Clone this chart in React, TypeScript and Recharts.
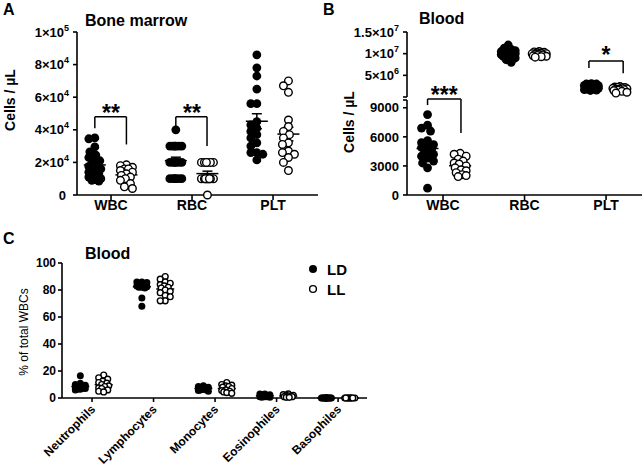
import React from 'react';
import { ScatterChart, Scatter, XAxis, YAxis, ReferenceLine, ReferenceDot, ErrorBar, Legend } from 'recharts';

const FONT = '"Liberation Sans", Arial, Helvetica, sans-serif';

// ---------- Categories ----------
const countCategories = ['WBC', 'RBC', 'PLT'];
const groupNames = ['LD', 'LL'];
const cellTypes = ['Neutrophils', 'Lymphocytes', 'Monocytes', 'Eosinophiles', 'Basophiles'];

// ---------- Panel A: bone marrow (cells / µL) ----------
const bmWbcLD = [35000, 34500, 29500, 26500, 24500, 23000, 21000, 20000, 19000, 17500, 16000, 15000, 14000, 13000, 12000, 11000, 10000, 9500, 9000, 8500];
const bmWbcLL = [18500, 18000, 17000, 16000, 16000, 15000, 14000, 13000, 12000, 11000, 10000, 9000, 7000, 5000, 4000];
const bmRbcLD = [40000, 30000, 30000, 30000, 30000, 30000, 30000, 20000, 20000, 20000, 20000, 20000, 20000, 10000, 10000, 10000, 10000, 10000, 10000];
const bmRbcLL = [20000, 20000, 20000, 20000, 20000, 20000, 10000, 10000, 10000, 10000, 10000, 10000, 10000, 10000, 10000, 0];
const bmPltLD = [86000, 78000, 73000, 65000, 56000, 56000, 45000, 43000, 41000, 39000, 37000, 35000, 32000, 30000, 26000, 26000, 25000, 21500];
const bmPltLL = [70000, 67000, 63000, 46000, 42000, 39000, 37000, 35000, 32000, 31000, 27000, 26000, 25000, 23000, 20000, 15000];

// ---------- Panel B: blood (cells / µL) ----------
const blWbcLD = [8300, 7200, 6900, 6600, 5600, 5400, 5200, 5000, 4900, 4700, 4600, 4400, 4200, 4000, 3800, 3500, 3300, 2800, 700];
const blWbcLL = [4300, 4200, 4000, 3700, 3500, 3300, 3200, 3000, 2800, 2600, 2500, 2300, 2100, 2000, 1900];
const blRbcLD = [12000000, 11300000, 11000000, 10700000, 10500000, 10300000, 10200000, 10100000, 10000000, 9900000, 9800000, 9700000, 9600000, 9400000, 9200000, 9000000, 8600000, 8000000];
const blRbcLL = [10500000, 10400000, 10300000, 10200000, 10100000, 10000000, 10000000, 9900000, 9800000, 9700000, 9600000, 9500000, 9400000, 9300000, 9200000];
const blPltLD = [3100000, 3000000, 3000000, 2900000, 2800000, 2700000, 2600000, 2500000, 2400000, 2300000, 2200000, 2100000, 2000000, 1900000, 1800000, 1700000, 1600000, 1500000];
const blPltLL = [2400000, 2300000, 2200000, 2200000, 2100000, 2000000, 1900000, 1800000, 1800000, 1700000, 1600000, 1500000, 1300000, 1100000, 900000];

// ---------- Panel C: % of total WBCs ----------
const pctLD = [
  [16.5, 11, 10, 9.5, 9, 8.5, 8.5, 8, 8, 7.5, 7.5, 7, 7, 6.5, 6.5, 6],
  [86, 86, 85.5, 85, 85, 84.5, 84, 84, 83.5, 83, 83, 82.5, 82, 82, 81.5, 74, 68],
  [9, 8.5, 8, 8, 7.5, 7.5, 7, 7, 7, 6.5, 6.5, 6, 6, 5.5, 5],
  [3, 3, 2.5, 2.5, 2, 2, 2, 1.5, 1.5, 1.5, 1, 1, 1, 0.5, 0.5],
  [0, 0, 0, 0, 0, 0, 0, 0, 0, 0, 0, 0, 0, 0, 0],
];
const pctLL = [
  [17, 15, 14, 12.5, 11.5, 11, 10, 9, 8.5, 7.5, 7, 6, 5, 4.5],
  [90, 88, 86, 85, 84, 83, 82, 81.5, 80, 79, 78, 76, 75, 72, 72],
  [11.5, 10, 9.5, 9, 8.5, 8, 7, 6, 5.5, 5, 4.5, 4, 3.5],
  [3, 2.5, 2, 2, 1.5, 1.5, 1, 1, 0.5, 0.5],
  [0, 0, 0, 0, 0, 0, 0, 0, 0, 0],
];

// ---------- helpers ----------
type Pt = { x: number; y: number; sem?: number };

// deterministic dot-plot spreading (like a beeswarm): layout only, values untouched
function swarm(values: number[], center: number, pxPerX: number, pxPerY: number, minDist: number, maxHalf: number): Pt[] {
  const placed: { dx: number; py: number }[] = [];
  const out: Pt[] = [];
  const sorted = [...values].sort((a, b) => b - a);
  for (const v of sorted) {
    const py = v * pxPerY;
    let best = 0;
    let bestScore = -1;
    for (let k = 0; k <= 2 * maxHalf; k++) {
      const dx = k % 2 === 1 ? -Math.ceil(k / 2) : k / 2;
      let md = Infinity;
      for (const p of placed) {
        const d = Math.hypot(p.dx - dx, p.py - py);
        if (d < md) md = d;
      }
      if (md >= minDist) { best = dx; break; }
      if (md > bestScore) { bestScore = md; best = dx; }
    }
    placed.push({ dx: best, py });
    out.push({ x: center + best / pxPerX, y: v });
  }
  return out;
}

function meanPt(values: number[], x: number): Pt {
  const n = values.length;
  const m = values.reduce((a, b) => a + b, 0) / n;
  const sd = Math.sqrt(values.reduce((a, b) => a + (b - m) ** 2, 0) / (n - 1));
  return { x, y: m, sem: sd / Math.sqrt(n) };
}

const OFF_LD = -0.2;
const OFF_LL = 0.19;

const filledDot = (r: number) => (p: any) => <circle cx={p.cx} cy={p.cy} r={r} fill="#000" />;
const openDot = (r: number) => (p: any) => <circle cx={p.cx} cy={p.cy} r={r - 0.6} fill="#fff" stroke="#000" strokeWidth={1.4} />;
const meanLine = (half: number) => (p: any) => (
  <line x1={p.cx - half} x2={p.cx + half} y1={p.cy} y2={p.cy} stroke="#000" strokeWidth={1.5} />
);

function sciParts(v: number): [string, string] {
  if (v === 0) return ['0', ''];
  const e = Math.floor(Math.log10(v) + 1e-9);
  const m = v / Math.pow(10, e);
  return [`${+m.toFixed(1)}×10`, String(e)];
}

const SciTick = (props: any) => {
  const { x, y, payload, hideZero } = props;
  const v = payload.value;
  if (hideZero && v === 0) return <g />;
  const [base, exp] = sciParts(v);
  return (
    <text x={exp ? x : x - 3} y={y} dy="0.36em" textAnchor="end" fontSize={13} fontWeight="bold" fontFamily={FONT} fill="#000">
      {base}
      {exp ? <tspan dy={-6} fontSize={9}>{exp}</tspan> : null}
    </text>
  );
};

const PlainTick = (props: any) => {
  const { x, y, payload, maxShown, fontSize } = props;
  if (maxShown !== undefined && payload.value > maxShown) return <g />;
  return (
    <text x={x} y={y} dy="0.36em" textAnchor="end" fontSize={fontSize} fontWeight="bold" fontFamily={FONT} fill="#000">
      {payload.value}
    </text>
  );
};

const CatTick = (props: any) => {
  const { x, y, payload } = props;
  return (
    <text x={x} y={y} dy="0.71em" textAnchor="middle" fontSize={14} fontWeight="bold" fontFamily={FONT} fill="#000">
      {countCategories[payload.value]}
    </text>
  );
};

const RotTick = (props: any) => {
  const { x, y, payload } = props;
  const ax = x + 4;
  const ay = y + 8;
  return (
    <text x={ax} y={ay} transform={`rotate(-45, ${ax}, ${ay})`} textAnchor="end" fontSize={12} fontWeight="bold" fontFamily={FONT} fill="#000">
      {cellTypes[payload.value]}
    </text>
  );
};

const AX = { stroke: '#000', strokeWidth: 1.6 };
const starLabel = (text: string) => ({ value: text, position: 'center' as const, fontSize: 23, fontWeight: 'bold', fill: '#000', fontFamily: FONT });

// ---------- derived point sets ----------
const bmLDSets = [bmWbcLD, bmRbcLD, bmPltLD];
const bmLLSets = [bmWbcLL, bmRbcLL, bmPltLL];
const A_PX = 81;
const A_PY = 163 / 100000;
const aLD = bmLDSets.flatMap((vals, i) => swarm(vals, i + OFF_LD, A_PX, A_PY, 6.5, 6));
const aLL = bmLLSets.flatMap((vals, i) => swarm(vals, i + OFF_LL, A_PX, A_PY, 6.5, 6));
const aMean = [
  ...bmLDSets.map((vals, i) => meanPt(vals, i + OFF_LD)),
  ...bmLLSets.map((vals, i) => meanPt(vals, i + OFF_LL)),
];

const B_PX = 81.5;
const BU_PY = 65 / 15000000;
const BL_PY = 95 / 9800;
const bLowLD = swarm(blWbcLD, 0 - 0.19, B_PX, BL_PY, 6.5, 6);
const bLowLL = swarm(blWbcLL, 0 + 0.21, B_PX, BL_PY, 6.5, 6);
const bLowMean = [meanPt(blWbcLD, -0.19), meanPt(blWbcLL, 0.21)];
const bUpLD = [...swarm(blRbcLD, 1 - 0.2, B_PX, BU_PY, 5, 7), ...swarm(blPltLD, 2 - 0.18, B_PX, BU_PY, 5, 7)];
const bUpLL = [...swarm(blRbcLL, 1 + 0.18, B_PX, BU_PY, 5, 7), ...swarm(blPltLL, 2 + 0.17, B_PX, BU_PY, 5, 7)];
const bUpMean = [meanPt(blRbcLD, 0.8), meanPt(blPltLD, 1.82), meanPt(blRbcLL, 1.18), meanPt(blPltLL, 2.17)];

const C_PX = 61.5;
const C_PY = 1.35;
const cLD = pctLD.flatMap((vals, i) => swarm(vals, i - 0.19, C_PX, C_PY, 5.2, 5));
const cLL = pctLL.flatMap((vals, i) => swarm(vals, i + 0.19, C_PX, C_PY, 5.2, 5));
const cMean = [
  ...pctLD.map((vals, i) => meanPt(vals, i - 0.19)),
  ...pctLL.map((vals, i) => meanPt(vals, i + 0.19)),
];

const textStyle = (left: number, top: number, size: number, bold = true): React.CSSProperties => ({
  position: 'absolute', left, top, fontSize: size, lineHeight: `${size}px`, fontWeight: bold ? 'bold' : 'normal', fontFamily: FONT, color: '#000', whiteSpace: 'nowrap',
});
const vTextStyle = (cx: number, cy: number, size: number, bold = true): React.CSSProperties => ({
  position: 'absolute', left: cx - 70, top: cy - size / 2, width: 140, height: size, textAlign: 'center', fontSize: size, lineHeight: `${size}px`,
  fontWeight: bold ? 'bold' : 'normal', fontFamily: FONT, color: '#000', transform: 'rotate(-90deg)', whiteSpace: 'nowrap',
});

const legendContent = () => (
  <svg width={60} height={42}>
    {groupNames.map((g, i) => (
      <g key={g}>
        {i === 0 ? (
          <circle cx={8} cy={9 + i * 20} r={4} fill="#000" />
        ) : (
          <circle cx={8} cy={9 + i * 20} r={3.4} fill="#fff" stroke="#000" strokeWidth={1.4} />
        )}
        <text x={22} y={14.5 + i * 20} fontSize={15} fontWeight="bold" fontFamily={FONT} fill="#000">{g}</text>
      </g>
    ))}
  </svg>
);

const R_AB = 4.4;
const R_C = 3.5;

export default function App() {
  return (
    <div style={{ position: 'absolute', left: 0, top: 0, width: 644, height: 468, background: '#fff', fontFamily: FONT, overflow: 'hidden' }}>
      {/* Panel A */}
      <div style={{ position: 'absolute', left: 0, top: 0 }}>
        <ScatterChart width={330} height={225} margin={{ top: 32, right: 12, bottom: 0, left: 0 }}>
          <XAxis type="number" dataKey="x" domain={[-0.42, 2.555]} ticks={[0, 1, 2]} interval={0} allowDataOverflow
            axisLine={AX} tickLine={AX} tickSize={5} tickMargin={0} height={30} tick={<CatTick />} />
          <YAxis type="number" dataKey="y" domain={[0, 100000]} ticks={[0, 20000, 40000, 60000, 80000, 100000]} interval={0}
            axisLine={AX} tickLine={AX} tickSize={4} tickMargin={4} width={77} tick={<SciTick />} />
          <Scatter name="mean" data={aMean} shape={meanLine(11)} isAnimationActive={false} legendType="none">
            <ErrorBar dataKey="sem" direction="y" width={5} stroke="#000" strokeWidth={1.5} />
          </Scatter>
          <Scatter name="LD" data={aLD} shape={filledDot(R_AB)} isAnimationActive={false} />
          <Scatter name="LL" data={aLL} shape={openDot(R_AB)} isAnimationActive={false} />
          <ReferenceLine segment={[{ x: -0.2, y: 48000 }, { x: 0.19, y: 48000 }]} stroke="#000" strokeWidth={1.5} ifOverflow="visible" />
          <ReferenceLine segment={[{ x: -0.2, y: 48000 }, { x: -0.2, y: 41000 }]} stroke="#000" strokeWidth={1.5} ifOverflow="visible" />
          <ReferenceLine segment={[{ x: 0.19, y: 48000 }, { x: 0.19, y: 31000 }]} stroke="#000" strokeWidth={1.5} ifOverflow="visible" />
          <ReferenceDot x={0} y={50500} r={0} fill="none" stroke="none" ifOverflow="visible" label={starLabel('**')} />
          <ReferenceLine segment={[{ x: 0.8, y: 48000 }, { x: 1.185, y: 48000 }]} stroke="#000" strokeWidth={1.5} ifOverflow="visible" />
          <ReferenceLine segment={[{ x: 0.8, y: 48000 }, { x: 0.8, y: 41000 }]} stroke="#000" strokeWidth={1.5} ifOverflow="visible" />
          <ReferenceLine segment={[{ x: 1.185, y: 48000 }, { x: 1.185, y: 30000 }]} stroke="#000" strokeWidth={1.5} ifOverflow="visible" />
          <ReferenceDot x={1} y={50500} r={0} fill="none" stroke="none" ifOverflow="visible" label={starLabel('**')} />
        </ScatterChart>
      </div>

      {/* Panel B lower segment */}
      <div style={{ position: 'absolute', left: 330, top: 0 }}>
        <ScatterChart width={314} height={225} margin={{ top: 100, right: 2, bottom: 0, left: 0 }}>
          <XAxis type="number" dataKey="x" domain={[-0.442, 2.441]} ticks={[0, 1, 2]} interval={0} allowDataOverflow
            axisLine={AX} tickLine={AX} tickSize={5} tickMargin={0} height={30} tick={<CatTick />} />
          <YAxis type="number" dataKey="y" domain={[0, 9800]} ticks={[0, 3000, 6000, 9000, 9800]} interval={0}
            axisLine={AX} tickLine={AX} tickSize={4} tickMargin={4} width={77} tick={<PlainTick maxShown={9000} fontSize={13} />} />
          <Scatter name="mean" data={bLowMean} shape={meanLine(11)} isAnimationActive={false} legendType="none">
            <ErrorBar dataKey="sem" direction="y" width={5} stroke="#000" strokeWidth={1.5} />
          </Scatter>
          <Scatter name="LD" data={bLowLD} shape={filledDot(R_AB)} isAnimationActive={false} />
          <Scatter name="LL" data={bLowLL} shape={openDot(R_AB)} isAnimationActive={false} />
          <ReferenceLine segment={[{ x: -0.19, y: 9900 }, { x: 0.22, y: 9900 }]} stroke="#000" strokeWidth={1.5} ifOverflow="visible" />
          <ReferenceLine segment={[{ x: -0.19, y: 9900 }, { x: -0.19, y: 9280 }]} stroke="#000" strokeWidth={1.5} ifOverflow="visible" />
          <ReferenceLine segment={[{ x: 0.22, y: 9900 }, { x: 0.22, y: 6400 }]} stroke="#000" strokeWidth={1.5} ifOverflow="visible" />
          <ReferenceDot x={0.015} y={10350} r={0} fill="none" stroke="none" ifOverflow="visible" label={starLabel('***')} />
        </ScatterChart>
      </div>

      {/* Panel B upper segment */}
      <div style={{ position: 'absolute', left: 330, top: 0 }}>
        <ScatterChart width={314} height={100} margin={{ top: 32, right: 2, bottom: 3, left: 0 }}>
          <XAxis type="number" dataKey="x" domain={[-0.442, 2.441]} hide allowDataOverflow />
          <YAxis type="number" dataKey="y" domain={[0, 15000000]} ticks={[0, 5000000, 10000000, 15000000]} interval={0}
            axisLine={AX} tickLine={AX} tickSize={4} tickMargin={4} width={77} tick={<SciTick hideZero />} />
          <Scatter name="mean" data={bUpMean} shape={meanLine(11)} isAnimationActive={false} legendType="none">
            <ErrorBar dataKey="sem" direction="y" width={5} stroke="#000" strokeWidth={1.5} />
          </Scatter>
          <Scatter name="LD" data={bUpLD} shape={filledDot(R_AB)} isAnimationActive={false} />
          <Scatter name="LL" data={bUpLL} shape={openDot(R_AB)} isAnimationActive={false} />
          <ReferenceLine segment={[{ x: 1.79, y: 8300000 }, { x: 2.21, y: 8300000 }]} stroke="#000" strokeWidth={1.5} ifOverflow="visible" />
          <ReferenceLine segment={[{ x: 1.79, y: 8300000 }, { x: 1.79, y: 6700000 }]} stroke="#000" strokeWidth={1.5} ifOverflow="visible" />
          <ReferenceLine segment={[{ x: 2.21, y: 8300000 }, { x: 2.21, y: 5500000 }]} stroke="#000" strokeWidth={1.5} ifOverflow="visible" />
          <ReferenceDot x={2} y={9760000} r={0} fill="none" stroke="none" ifOverflow="visible" label={starLabel('*')} />
        </ScatterChart>
      </div>

      {/* Panel C */}
      <div style={{ position: 'absolute', left: 0, top: 220 }}>
        <ScatterChart width={380} height={248} margin={{ top: 43, right: 13, bottom: 0, left: 0 }}>
          <XAxis type="number" dataKey="x" domain={[-0.488, 4.47]} ticks={[0, 1, 2, 3, 4]} interval={0} allowDataOverflow
            axisLine={AX} tickLine={AX} tickSize={4} tickMargin={0} height={70} tick={<RotTick />} />
          <YAxis type="number" dataKey="y" domain={[0, 100]} ticks={[0, 20, 40, 60, 80, 100]} interval={0}
            axisLine={AX} tickLine={AX} tickSize={4} tickMargin={2} width={62} tick={<PlainTick fontSize={12} />} />
          <Scatter name="mean" data={cMean} shape={meanLine(9)} isAnimationActive={false} legendType="none">
            <ErrorBar dataKey="sem" direction="y" width={4} stroke="#000" strokeWidth={1.3} />
          </Scatter>
          <Scatter name="LD" data={cLD} shape={filledDot(R_C)} isAnimationActive={false} />
          <Scatter name="LL" data={cLL} shape={openDot(R_C)} isAnimationActive={false} />
          <Legend layout="vertical" align="center" verticalAlign="middle" content={legendContent}
            wrapperStyle={{ position: 'absolute', left: 305, top: 40, width: 60, height: 42 }} />
        </ScatterChart>
      </div>

      {/* Panel letters, titles, axis titles */}
      <div style={textStyle(3, 2, 16)}>A</div>
      <div style={textStyle(85, 13, 16)}>Bone marrow</div>
      <div style={vTextStyle(10.2, 99.5, 14)}>Cells / µL</div>

      <div style={textStyle(323, 2, 16)}>B</div>
      <div style={textStyle(419, 11, 16)}>Blood</div>
      <div style={vTextStyle(348.5, 121.5, 14)}>Cells / µL</div>

      <div style={textStyle(3, 231, 16)}>C</div>
      <div style={textStyle(85, 246, 16)}>Blood</div>
      <div style={vTextStyle(23.5, 331.7, 12, false)}>% of total WBCs</div>
    </div>
  );
}
